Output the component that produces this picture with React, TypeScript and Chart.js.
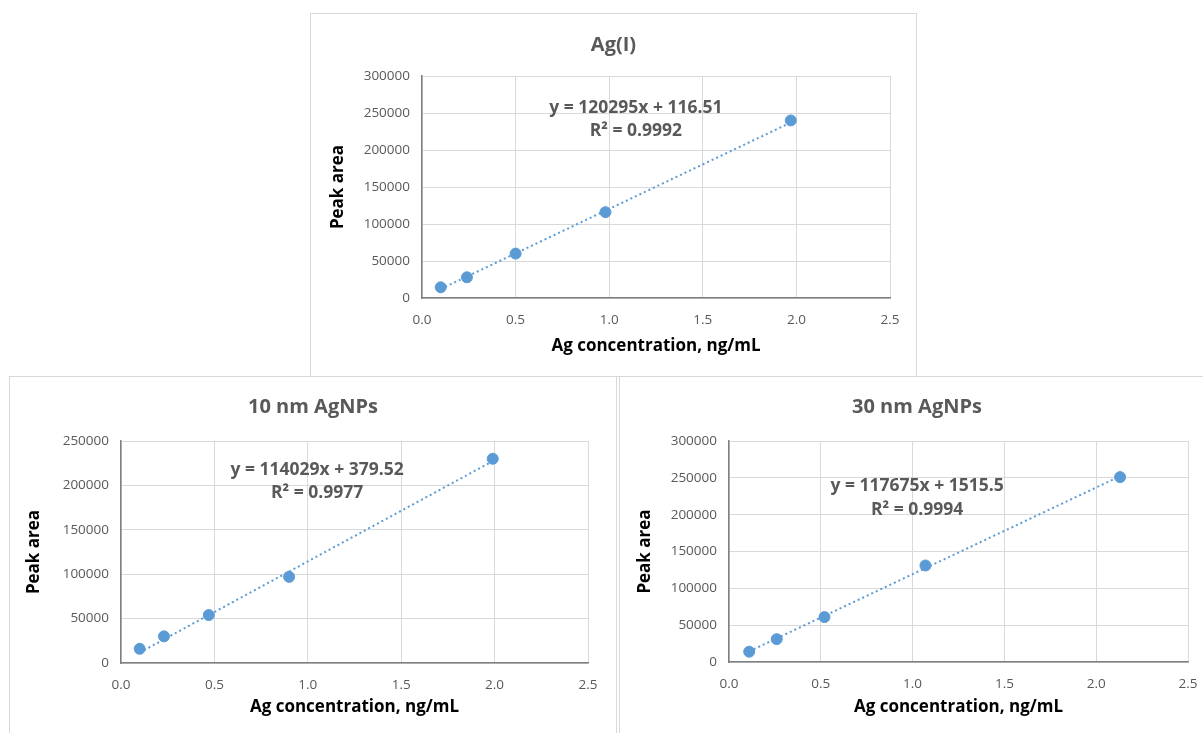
import React, { useEffect, useRef } from "react";
import { Chart, registerables } from "chart.js";

Chart.register(...registerables);

// ---------- data ----------
const X_TICKS = [0, 0.5, 1.0, 1.5, 2.0, 2.5];
const Y_TICKS_300K = [0, 50000, 100000, 150000, 200000, 250000, 300000];
const Y_TICKS_250K = [0, 50000, 100000, 150000, 200000, 250000];

const X_TITLE = "Ag concentration, ng/mL";
const Y_TITLE = "Peak area";

const AGI_TITLE = "Ag(I)";
const AGI_X = [0.1, 0.24, 0.5, 0.98, 1.97];
const AGI_Y = [14500, 28000, 60000, 116000, 240000];
const AGI_SLOPE = 120295;
const AGI_INTERCEPT = 116.51;
const AGI_EQ = ["y = 120295x + 116.51", "R² = 0.9992"];

const NP10_TITLE = "10 nm AgNPs";
const NP10_X = [0.1, 0.23, 0.47, 0.9, 1.99];
const NP10_Y = [16000, 30000, 54000, 97000, 230000];
const NP10_SLOPE = 114029;
const NP10_INTERCEPT = 379.52;
const NP10_EQ = ["y = 114029x + 379.52", "R² = 0.9977"];

const NP30_TITLE = "30 nm AgNPs";
const NP30_X = [0.11, 0.26, 0.52, 1.07, 2.13];
const NP30_Y = [14000, 31000, 61000, 131000, 251000];
const NP30_SLOPE = 117675;
const NP30_INTERCEPT = 1515.5;
const NP30_EQ = ["y = 117675x + 1515.5", "R² = 0.9994"];

// ---------- styles ----------
const FONT = "'Open Sans', 'Liberation Sans', sans-serif";
const BLUE = "#5b9bd5";
const TEXT_GRAY = "#595959";
const GRID = "#d9d9d9";
const AXIS = "#7f7f7f";

type Box = { x: number; y: number; w: number; h: number };
type Plot = { left: number; right: number; top: number; bottom: number };

type PanelProps = {
  box: Box;
  plot: Plot;
  title: string;
  xs: number[];
  ys: number[];
  slope: number;
  intercept: number;
  eq: string[];
  eqPos: [number, number, number]; // rel x, rel y line1, rel y line2
  yTicks: number[];
  yTitleX: number;
  xTitleY: number;
  titleY: number;
};

function Panel(p: PanelProps) {
  const ref = useRef<HTMLCanvasElement>(null);
  const W = p.box.w - 2;
  const H = p.box.h - 2;

  useEffect(() => {
    if (!ref.current) return;
    const pts = p.xs.map((x, i) => ({ x, y: p.ys[i] }));
    const xmin = Math.min(...p.xs);
    const xmax = Math.max(...p.xs);
    const trend = [
      { x: xmin, y: p.slope * xmin + p.intercept },
      { x: xmax, y: p.slope * xmax + p.intercept },
    ];
    const yMax = p.yTicks[p.yTicks.length - 1];

    const overlay = {
      id: "overlay",
      afterDraw(chart: any) {
        const ctx = chart.ctx;
        const a = chart.chartArea;
        ctx.save();
        ctx.fillStyle = TEXT_GRAY;
        ctx.textAlign = "center";
        ctx.textBaseline = "middle";
        ctx.font = `bold 20px ${FONT}`;
        ctx.fillText(p.title, chart.width / 2, p.titleY);
        ctx.font = `bold 17.5px ${FONT}`;
        const cx = a.left + p.eqPos[0] * (a.right - a.left);
        ctx.fillText(p.eq[0], cx, a.top + p.eqPos[1] * (a.bottom - a.top));
        ctx.fillText(p.eq[1], cx, a.top + p.eqPos[2] * (a.bottom - a.top));
        ctx.restore();
      },
    };

    const TSIZE = 17;
    const tLH = TSIZE * 1.2;
    const chart = new Chart(ref.current, {
      type: "scatter",
      data: {
        datasets: [
          {
            data: pts,
            backgroundColor: BLUE,
            borderColor: BLUE,
            pointRadius: 5.5,
            pointHoverRadius: 5.5,
            order: 1,
          },
          {
            data: trend,
            showLine: true,
            borderColor: BLUE,
            borderWidth: 2,
            borderDash: [2, 3],
            pointRadius: 0,
            fill: false,
            order: 2,
          },
        ],
      },
      options: {
        responsive: false,
        animation: false,
        devicePixelRatio: 1,
        layout: {
          padding: { top: p.plot.top, right: W - p.plot.right, left: 0, bottom: 0 },
        },
        plugins: {
          legend: { display: false },
          tooltip: { enabled: false },
          title: { display: false },
        },
        scales: {
          x: {
            type: "linear",
            min: X_TICKS[0],
            max: X_TICKS[X_TICKS.length - 1],
            afterBuildTicks: (s: any) => {
              s.ticks = X_TICKS.map((v) => ({ value: v }));
            },
            afterFit: (s: any) => {
              s.height = H - p.plot.bottom;
            },
            ticks: {
              callback: (v: any) => Number(v).toFixed(1),
              color: TEXT_GRAY,
              font: { family: FONT, size: 13.5 },
              padding: 14,
              maxRotation: 0,
              autoSkip: false,
            },
            grid: { color: GRID, drawTicks: false, lineWidth: 1 },
            border: { display: true, color: AXIS, width: 1.5 },
            title: {
              display: true,
              text: X_TITLE,
              color: "#000",
              font: { family: FONT, size: TSIZE, weight: "bold" },
              padding: { top: 0, bottom: H - tLH / 2 - p.xTitleY },
            },
          },
          y: {
            type: "linear",
            min: 0,
            max: yMax,
            afterBuildTicks: (s: any) => {
              s.ticks = p.yTicks.map((v) => ({ value: v }));
            },
            afterFit: (s: any) => {
              s.width = p.plot.left;
            },
            ticks: {
              callback: (v: any) => String(v),
              color: TEXT_GRAY,
              font: { family: FONT, size: 13.5 },
              padding: 12,
              autoSkip: false,
            },
            grid: { color: GRID, drawTicks: false, lineWidth: 1 },
            border: { display: true, color: AXIS, width: 1.5 },
            title: {
              display: true,
              text: Y_TITLE,
              color: "#000",
              font: { family: FONT, size: TSIZE, weight: "bold" },
              padding: { top: p.yTitleX - tLH / 2, bottom: 0 },
            },
          },
        },
      },
      plugins: [overlay],
    } as any);
    return () => chart.destroy();
  }, []);

  return (
    <div
      style={{
        position: "absolute",
        left: p.box.x,
        top: p.box.y,
        width: W,
        height: H,
        border: `1px solid ${GRID}`,
        background: "#fff",
      }}
    >
      <canvas ref={ref} width={W} height={H} style={{ display: "block", width: W, height: H }} />
    </div>
  );
}

export default function App() {
  return (
    <div
      style={{
        position: "absolute",
        left: 0,
        top: 0,
        width: 1203,
        height: 733,
        overflow: "hidden",
        background: "#fff",
      }}
    >
      <Panel
        box={{ x: 310, y: 13, w: 607, h: 364 }}
        plot={{ left: 111, right: 579, top: 62, bottom: 284 }}
        title={AGI_TITLE}
        xs={AGI_X}
        ys={AGI_Y}
        slope={AGI_SLOPE}
        intercept={AGI_INTERCEPT}
        eq={AGI_EQ}
        eqPos={[0.457, 0.144, 0.248]}
        yTicks={Y_TICKS_300K}
        yTitleX={27}
        xTitleY={332}
        titleY={31}
      />
      <Panel
        box={{ x: 9, y: 376, w: 608, h: 362 }}
        plot={{ left: 111, right: 578, top: 64, bottom: 286 }}
        title={NP10_TITLE}
        xs={NP10_X}
        ys={NP10_Y}
        slope={NP10_SLOPE}
        intercept={NP10_INTERCEPT}
        eq={NP10_EQ}
        eqPos={[0.42, 0.13, 0.234]}
        yTicks={Y_TICKS_250K}
        yTitleX={24.5}
        xTitleY={330}
        titleY={30}
      />
      <Panel
        box={{ x: 619, y: 376, w: 596, h: 362 }}
        plot={{ left: 109, right: 568, top: 64, bottom: 285 }}
        title={NP30_TITLE}
        xs={NP30_X}
        ys={NP30_Y}
        slope={NP30_SLOPE}
        intercept={NP30_INTERCEPT}
        eq={NP30_EQ}
        eqPos={[0.41, 0.204, 0.312]}
        yTicks={Y_TICKS_300K}
        yTitleX={25}
        xTitleY={330}
        titleY={30}
      />
    </div>
  );
}
